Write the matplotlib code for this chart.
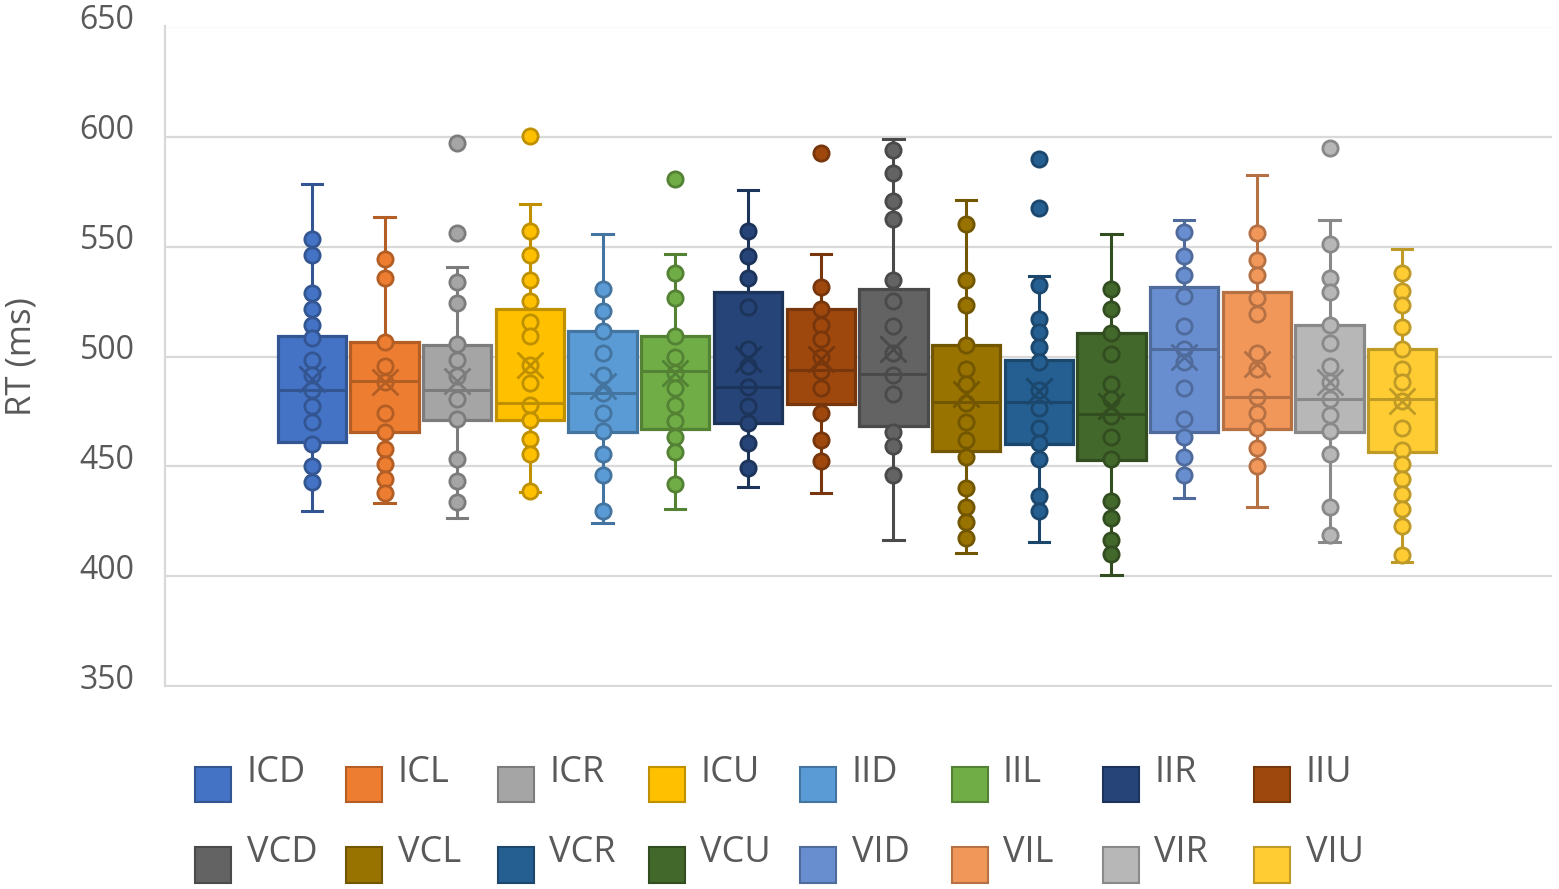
import matplotlib
matplotlib.use('Agg')
import matplotlib.pyplot as plt
import matplotlib.colors as mcolors
from matplotlib.patches import Rectangle
from matplotlib.transforms import ScaledTranslation

labels = ['ICD', 'ICL', 'ICR', 'ICU', 'IID', 'IIL', 'IIR', 'IIU',
          'VCD', 'VCL', 'VCR', 'VCU', 'VID', 'VIL', 'VIR', 'VIU']
colors = ['#4472C4', '#ED7D31', '#A5A5A5', '#FFC000', '#5B9BD5', '#70AD47', '#264478', '#9E480E',
          '#636363', '#997300', '#255E91', '#43682B', '#698ED0', '#F1975A', '#B7B7B7', '#FFCD33']

q1 = [461.2, 465.9, 471.2, 471.2, 465.9, 467.0, 470.0, 478.3,
      468.5, 457.1, 460.2, 453.0, 465.9, 467.0, 465.9, 456.8]
median = [484.8, 488.9, 484.8, 478.8, 483.6, 493.2, 486.2, 493.9,
          492.0, 479.4, 479.4, 473.8, 503.3, 481.8, 480.6, 480.6]
q3 = [509.4, 506.4, 505.2, 521.5, 511.4, 509.4, 529.1, 521.5,
      530.6, 505.2, 498.3, 510.5, 531.7, 529.4, 514.4, 503.3]
whislo = [429.8, 433.6, 426.8, 438.2, 424.5, 430.9, 440.8, 437.9,
          416.5, 410.5, 415.5, 400.6, 435.9, 431.8, 415.5, 406.4]
whishi = [578.3, 563.2, 540.8, 569.2, 555.9, 546.8, 575.6, 546.8,
          598.8, 571.2, 536.7, 555.9, 562.1, 582.4, 562.1, 548.8]
means = [489.7, 488.2, 488.9, 496.1, 486.7, 492.7, 498.8, 498.8,
         503.3, 482.9, 484.4, 477.6, 500.0, 496.5, 488.2, 479.8]

inner_points = [
    [553.3, 546.1, 528.8, 521.5, 514.4, 508.3, 498.5, 491.5, 484.8, 477.3, 470.3, 460.2, 450.0, 443.0],
    [544.2, 535.6, 506.4, 495.5, 488.2, 474.5, 465.5, 457.9, 451.1, 444.2, 437.9],
    [533.9, 524.5, 505.5, 498.5, 491.2, 480.6, 471.5, 453.3, 443.5, 433.9],
    [557.1, 546.1, 534.8, 525.3, 515.8, 509.4, 496.1, 487.9, 477.9, 471.2, 462.4, 455.6, 438.9],
    [530.9, 520.5, 511.5, 501.8, 491.5, 483.6, 474.5, 466.2, 455.6, 446.2, 429.8],
    [537.9, 526.5, 509.1, 500.0, 492.7, 485.5, 477.9, 470.8, 463.2, 456.4, 442.0],
    [557.1, 545.5, 535.6, 522.7, 503.3, 495.5, 486.2, 477.6, 469.7, 460.9, 449.1],
    [531.7, 521.5, 514.4, 507.9, 500.0, 493.5, 485.9, 474.5, 462.1, 452.3],
    [593.9, 583.6, 570.8, 562.4, 534.7, 525.3, 513.9, 501.8, 491.5, 482.9, 465.5, 459.4, 446.1],
    [560.2, 534.7, 523.5, 505.2, 494.5, 487.4, 478.8, 470.3, 462.1, 454.1, 440.0, 431.8, 424.8, 417.7],
    [532.6, 517.0, 511.2, 504.1, 497.3, 484.8, 476.8, 467.7, 460.6, 453.3, 436.7, 429.8],
    [530.6, 521.5, 510.9, 501.1, 487.4, 480.9, 473.0, 463.2, 453.3, 434.4, 426.8, 416.7, 410.2],
    [556.4, 545.5, 537.1, 527.6, 513.9, 503.6, 497.6, 485.9, 471.5, 463.2, 454.5, 446.2],
    [556.1, 543.9, 537.0, 526.4, 519.2, 501.8, 494.2, 481.8, 474.5, 467.3, 458.6, 450.0],
    [551.1, 535.9, 529.1, 514.4, 506.1, 495.5, 488.2, 480.9, 473.3, 466.2, 455.6, 431.8, 418.8],
    [537.9, 529.8, 523.3, 513.2, 503.3, 494.5, 488.2, 479.8, 467.3, 457.6, 451.1, 444.5,
     437.4, 430.6, 423.0, 409.7],
]
outliers = [[], [], [597.0, 556.1], [600.3], [], [580.6], [], [592.7],
            [], [], [589.7, 567.3], [], [], [], [595.0], []]

y_ticks = [350, 400, 450, 500, 550, 600, 650]


def darker(c, f=0.75):
    r, g, b = mcolors.to_rgb(c)
    return (r * f, g * f, b * f)


W, H = 1559, 889
fig = plt.figure(figsize=(W / 100, H / 100), dpi=100)
ax = fig.add_axes([165 / W, 1 - 686.5 / H, (1552 - 165) / W, (686.5 - 26.5) / H])

positions = list(range(len(labels)))
stats = []
for i in positions:
    stats.append(dict(label=labels[i], q1=q1[i], med=median[i], q3=q3[i],
                      whislo=whislo[i], whishi=whishi[i], mean=means[i], fliers=[]))

res = ax.bxp(stats, positions=positions, widths=0.94, patch_artist=True,
             showmeans=False, showfliers=False, capwidths=0.28, manage_ticks=False)

for i in positions:
    fc = colors[i]
    ec = darker(fc)
    box = res['boxes'][i]
    box.set_facecolor(fc)
    box.set_edgecolor(ec)
    box.set_linewidth(2.3)
    box.set_zorder(2)
    for w in res['whiskers'][2 * i:2 * i + 2]:
        w.set_color(ec); w.set_linewidth(2.2); w.set_zorder(1.9)
    for c in res['caps'][2 * i:2 * i + 2]:
        c.set_color(ec); c.set_linewidth(2.2); c.set_zorder(1.9)
    m = res['medians'][i]
    m.set_color(ec); m.set_linewidth(2.2); m.set_zorder(3.5)

    pts = inner_points[i] + outliers[i]
    ax.plot([i] * len(pts), pts, linestyle='none', marker='o', markersize=11,
            markerfacecolor=fc, markeredgecolor=ec, markeredgewidth=2.0, zorder=3)
    ax.plot([i], [means[i]], linestyle='none', marker='x', markersize=19,
            markeredgecolor=ec, markeredgewidth=2.0, zorder=4)

ax.set_xlim(-2.02, 17.06)
ax.set_ylim(350, 650)
ax.set_yticks(y_ticks)
ax.set_xticks([])
ax.yaxis.grid(True, color='#D9D9D9', linewidth=1.6)
ax.set_axisbelow(True)
for s in ['top', 'right', 'bottom']:
    ax.spines[s].set_visible(False)
ax.spines['left'].set_color('#D9D9D9')
ax.spines['left'].set_linewidth(1.6)
ax.tick_params(axis='y', length=0, pad=22, labelsize=23, labelcolor='#595959')
for lbl in ax.get_yticklabels():
    lbl.set_fontfamily('Open Sans')
    lbl.set_transform(lbl.get_transform() + ScaledTranslation(0, 0.10, fig.dpi_scale_trans))

fig.text(21 / W, 1 - 357 / H, 'RT (ms)', rotation=90, ha='center', va='center',
         fontsize=25, color='#595959', family='Open Sans')

# legend (two rows of eight)
for i, lab in enumerate(labels):
    row, col = divmod(i, 8)
    x0 = 195 + col * 151.3
    ptop = 766.7 + row * 80.5
    fig.add_artist(Rectangle((x0 / W, 1 - (ptop + 35.5) / H), 36 / W, 35.5 / H,
                             transform=fig.transFigure, facecolor=colors[i],
                             edgecolor=darker(colors[i]), linewidth=1.5))
    fig.text((x0 + 51.5) / W, 1 - (773 + row * 80.5) / H, lab, ha='left', va='center',
             fontsize=26, color='#595959', family='Open Sans')

fig.savefig('out.png', dpi=100)
